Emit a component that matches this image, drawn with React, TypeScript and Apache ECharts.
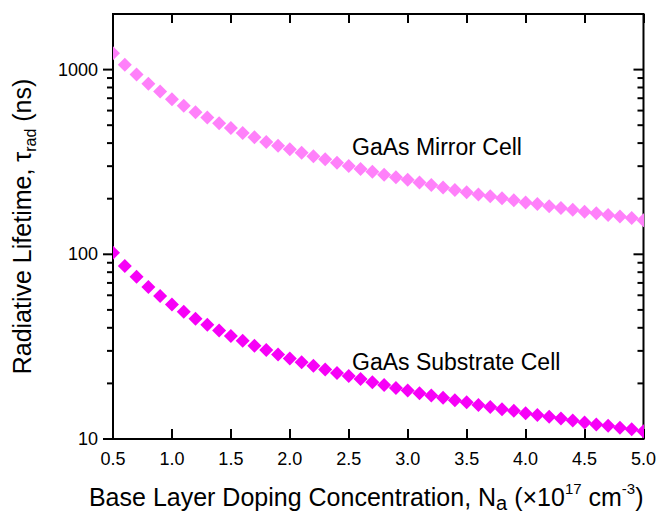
import React, { useEffect, useRef } from "react";
import * as echarts from "echarts";

const dopingN = [
  0.5, 0.6, 0.7, 0.8, 0.9, 1.0, 1.1, 1.2, 1.3, 1.4, 1.5, 1.6, 1.7, 1.8, 1.9, 2.0,
  2.1, 2.2, 2.3, 2.4, 2.5, 2.6, 2.7, 2.8, 2.9, 3.0, 3.1, 3.2, 3.3, 3.4, 3.5, 3.6,
  3.7, 3.8, 3.9, 4.0, 4.1, 4.2, 4.3, 4.4, 4.5, 4.6, 4.7, 4.8, 4.9, 5.0,
];

const mirrorCell = [
  1228, 1063, 940, 839, 761, 692, 637, 587, 550, 513, 483, 454, 430, 406, 387, 370,
  355, 340, 327, 313, 301, 290, 280, 270, 261, 253, 245, 237, 230, 223, 217, 211,
  206, 201, 196, 191, 187, 182, 178, 174, 170, 167, 163, 160, 157, 153,
];

const substrateCell = [
  102, 86.5, 75.5, 66.5, 59.5, 53.5, 48.8, 44.8, 41.5, 38.7, 36.1, 34.0, 32.0, 30.3, 28.7, 27.3,
  26.0, 24.9, 23.8, 22.8, 21.9, 21.1, 20.3, 19.6, 18.9, 18.3, 17.7, 17.2, 16.7, 16.2, 15.8, 15.3,
  14.9, 14.5, 14.2, 13.8, 13.5, 13.2, 12.9, 12.6, 12.3, 12.0, 11.8, 11.5, 11.3, 11.0,
];

const yMajorTicks = [10, 100, 1000];
const yMinorTicks = [20, 30, 40, 50, 60, 70, 80, 90, 200, 300, 400, 500, 600, 700, 800, 900];

const seriesNames = ["GaAs Mirror Cell", "GaAs Substrate Cell"];
const seriesColors = ["#ff80fa", "#f700f7"];

const FONT = "'Liberation Sans', Arial, Helvetica, sans-serif";

function diamondSeries(name: string, values: number[], color: string) {
  const half = 7;
  return {
    name,
    type: "custom",
    xAxisIndex: 0,
    yAxisIndex: 0,
    clip: true,
    z: 3,
    data: dopingN.map((x, i) => [x, values[i]]),
    renderItem: (params: any, api: any) => {
      const p = api.coord([api.value(0), api.value(1)]);
      return {
        type: "polygon",
        shape: {
          points: [
            [p[0], p[1] - half],
            [p[0] + half, p[1]],
            [p[0], p[1] + half],
            [p[0] - half, p[1]],
          ],
        },
        style: { fill: color, stroke: "none" },
      };
    },
  };
}

export default function App() {
  const ref = useRef<HTMLDivElement>(null);

  useEffect(() => {
    if (!ref.current) return;
    const chart = echarts.init(ref.current, undefined, { renderer: "svg" });

    const xMin = dopingN[0];
    const xMax = dopingN[dopingN.length - 1];

    const tickSeriesData = [...yMajorTicks, ...yMinorTicks].map((v) => [xMin, v]);

    const option: any = {
      animation: false,
      backgroundColor: "#ffffff",
      grid: {
        left: 113,
        right: 13,
        top: 14,
        bottom: 73,
        show: true,
        borderColor: "#000",
        borderWidth: 2,
        backgroundColor: "transparent",
      },
      xAxis: [
        {
          type: "value",
          min: 0.5,
          max: 5.0,
          interval: 0.5,
          position: "bottom",
          axisLine: { show: false },
          axisTick: { show: true, inside: true, length: 10, lineStyle: { color: "#000", width: 2 } },
          splitLine: { show: false },
          axisLabel: {
            color: "#000",
            fontSize: 18,
            fontFamily: FONT,
            margin: 11,
            formatter: (v: number) => v.toFixed(1),
          },
          name:
            "{m|Base Layer Doping Concentration, N}{s|a}{m| (×10}{sup|17}{m| cm}{sup|-3}{m|)}",
          nameLocation: "middle",
          nameGap: 42,
          nameTextStyle: {
            color: "#000",
            fontFamily: FONT,
            fontSize: 25,
            padding: [0, 24, 0, 0],
            rich: {
              m: { fontSize: 25, fontFamily: FONT, color: "#000", lineHeight: 32 },
              s: { fontSize: 20, fontFamily: FONT, color: "#000", lineHeight: 30, verticalAlign: "bottom" },
              sup: { fontSize: 15, fontFamily: FONT, color: "#000", lineHeight: 15, verticalAlign: "top" },
            },
          },
        },
        {
          type: "value",
          min: 0.5,
          max: 5.0,
          interval: 0.5,
          position: "top",
          axisLine: { show: false },
          axisTick: { show: true, inside: true, length: 9, lineStyle: { color: "#000", width: 2 } },
          axisLabel: { show: false },
          splitLine: { show: false },
        },
      ],
      yAxis: [
        {
          type: "log",
          logBase: 10,
          min: 10,
          max: 2000,
          axisLine: { show: false },
          axisTick: { show: false },
          splitLine: { show: false },
          axisLabel: {
            color: "#000",
            fontSize: 18,
            fontFamily: FONT,
            margin: 15,
            showMaxLabel: false,
            formatter: (v: number) => String(Math.round(v)),
          },
          name: "{m|Radiative Lifetime, τ}{sub|rad}{m| (ns)}",
          nameLocation: "middle",
          nameGap: 75,
          nameTextStyle: {
            color: "#000",
            fontFamily: FONT,
            fontSize: 25,
            rich: {
              m: { fontSize: 25, fontFamily: FONT, color: "#000", lineHeight: 32 },
              sub: { fontSize: 16, fontFamily: FONT, color: "#000", lineHeight: 16, verticalAlign: "bottom" },
            },
          },
        },
      ],
      graphic: [
        {
          type: "text",
          left: 352,
          top: 135,
          style: { text: seriesNames[0], fontSize: 23, fontFamily: FONT, fill: "#000" },
        },
        {
          type: "text",
          left: 352,
          top: 350,
          style: { text: seriesNames[1], fontSize: 23, fontFamily: FONT, fill: "#000" },
        },
      ],
      series: [
        diamondSeries(seriesNames[0], mirrorCell, seriesColors[0]),
        diamondSeries(seriesNames[1], substrateCell, seriesColors[1]),
        {
          name: "yTicks",
          type: "custom",
          xAxisIndex: 0,
          yAxisIndex: 0,
          silent: true,
          clip: false,
          z: 6,
          data: tickSeriesData,
          renderItem: (params: any, api: any) => {
            const v = api.value(1);
            const major = yMajorTicks.indexOf(v) >= 0;
            const len = major ? 10 : 6;
            const l = api.coord([xMin, v]);
            const r = api.coord([xMax, v]);
            return {
              type: "group",
              children: [
                {
                  type: "line",
                  shape: { x1: l[0] - len, y1: l[1], x2: l[0], y2: l[1] },
                  style: { stroke: "#000", lineWidth: 2 },
                },
                {
                  type: "line",
                  shape: { x1: r[0] - len, y1: r[1], x2: r[0], y2: r[1] },
                  style: { stroke: "#000", lineWidth: 2 },
                },
              ],
            };
          },
        },
      ],
    };

    chart.setOption(option);
    return () => chart.dispose();
  }, []);

  return (
    <div
      ref={ref}
      style={{ position: "fixed", left: 0, top: 0, width: 659, height: 518, background: "#fff" }}
    />
  );
}
